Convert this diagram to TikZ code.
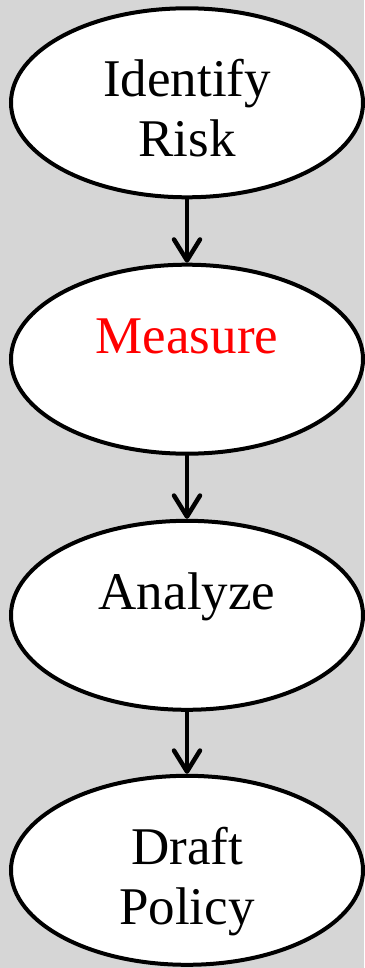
\documentclass[tikz,border=0pt]{standalone}
\usepackage{fontspec}
\setmainfont{Liberation Serif}
\usetikzlibrary{arrows.meta,shapes.geometric}
\definecolor{bggray}{HTML}{D6D6D6}
\definecolor{measurered}{HTML}{FF0000}
\newcommand{\stagetext}[1]{\setlength{\tabcolsep}{0pt}\begin{tabular}[t]{c}#1\end{tabular}}
\tikzset{
  stage/.style={ellipse, draw=black, fill=white, line width=4pt,
    minimum width=352pt, minimum height=189pt, inner sep=0pt,
    text height=36pt, text depth=48pt,
    font=\fontsize{53}{60}\selectfont},
  flow/.style={line width=4.5pt, line cap=round,
    -{Straight Barb[length=21pt,width=26pt,line cap=round,line join=round]}}
}
\begin{document}
\begin{tikzpicture}[x=1pt,y=1pt]
\fill[bggray] (0,0) rectangle (364,-968);
\useasboundingbox (0,0) rectangle (364,-968);
\node[stage] (identify) at (187,-102.8) {\stagetext{Identify\\Risk}};
\node[stage, text=measurered] (measure) at (187,-359.2) {\stagetext{Measure}};
\node[stage] (analyze) at (187,-615.3) {\stagetext{Analyze}};
\node[stage] (draft) at (187,-870.3) {\stagetext{Draft\\Policy}};
\draw[flow] (identify.south) -- (measure.north);
\draw[flow] (measure.south) -- (analyze.north);
\draw[flow] (analyze.south) -- (draft.north);
\end{tikzpicture}
\end{document}
